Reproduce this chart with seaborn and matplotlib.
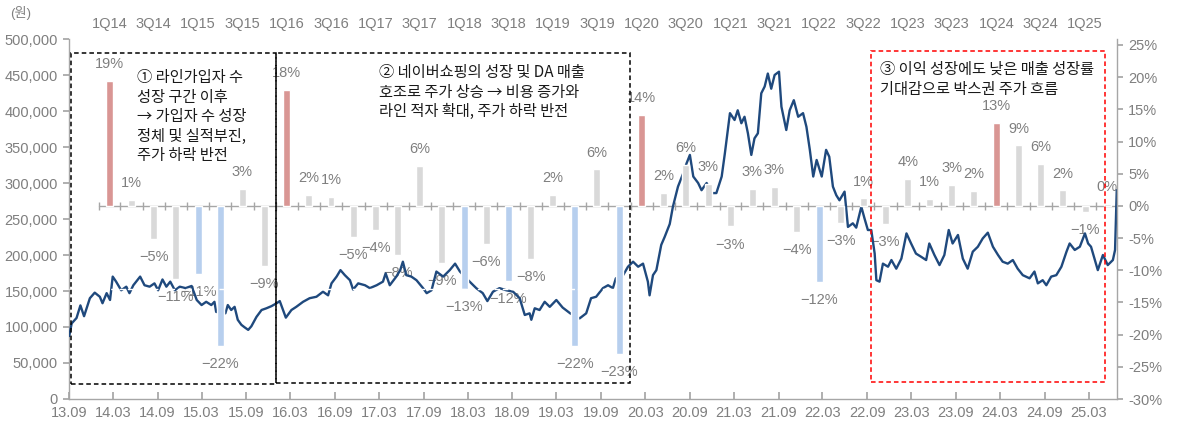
import matplotlib
matplotlib.use("Agg")
import matplotlib.pyplot as plt
import matplotlib.dates as mdates
import matplotlib.ticker as mticker
from matplotlib.patches import Rectangle
import numpy as np
import pandas as pd
import seaborn as sns

# ---------------- data ----------------
price_dates = [
    "2013-09-02", "2013-09-12", "2013-10-02", "2013-10-18", "2013-11-02", "2013-11-26", "2013-12-16",
    "2014-01-06", "2014-01-17", "2014-02-03", "2014-02-17", "2014-02-28", "2014-03-14", "2014-04-04",
    "2014-04-25", "2014-05-08", "2014-05-24", "2014-06-21", "2014-07-09", "2014-07-30", "2014-08-19",
    "2014-09-03", "2014-09-21", "2014-10-07", "2014-10-23", "2014-11-11", "2014-12-01", "2014-12-25",
    "2015-01-19", "2015-02-09", "2015-03-01", "2015-03-20", "2015-04-10", "2015-04-23", "2015-04-30",
    "2015-06-07", "2015-06-17", "2015-07-01", "2015-07-15", "2015-07-28", "2015-08-12", "2015-08-25",
    "2015-09-09", "2015-09-22", "2015-10-13", "2015-11-03", "2015-11-23", "2015-12-14", "2016-01-04",
    "2016-01-17", "2016-02-11", "2016-03-05", "2016-03-25", "2016-04-22", "2016-05-19", "2016-06-16",
    "2016-07-13", "2016-08-03", "2016-08-17", "2016-09-07", "2016-09-23", "2016-10-11", "2016-11-01",
    "2016-11-14", "2016-12-05", "2017-01-02", "2017-01-22", "2017-02-19", "2017-03-17", "2017-03-28",
    "2017-04-14", "2017-05-11", "2017-05-27", "2017-06-07", "2017-06-21", "2017-07-12", "2017-08-02",
    "2017-08-29", "2017-09-13", "2017-10-03", "2017-10-23", "2017-11-20", "2017-12-17", "2018-01-08",
    "2018-01-28", "2018-03-09", "2018-04-05", "2018-05-02", "2018-05-21", "2018-06-13", "2018-07-10",
    "2018-08-07", "2018-09-04", "2018-10-01", "2018-10-22", "2018-11-11", "2018-11-18", "2018-12-02",
    "2018-12-22", "2019-01-12", "2019-02-02", "2019-03-01", "2019-03-27", "2019-04-27", "2019-06-05",
    "2019-07-02", "2019-07-22", "2019-08-12", "2019-09-09", "2019-09-30", "2019-10-20", "2019-11-01",
    "2019-12-01", "2019-12-21", "2020-01-11", "2020-02-01", "2020-02-21", "2020-03-12", "2020-03-19",
    "2020-04-02", "2020-04-16", "2020-05-06", "2020-05-20", "2020-06-10", "2020-06-23", "2020-07-14",
    "2020-08-04", "2020-08-18", "2020-09-01", "2020-09-15", "2020-10-05", "2020-10-19", "2020-11-09",
    "2020-11-29", "2020-12-19", "2021-01-10", "2021-01-23", "2021-02-13", "2021-03-04", "2021-03-17",
    "2021-04-01", "2021-04-14", "2021-04-28", "2021-05-12", "2021-05-25", "2021-06-08", "2021-06-22",
    "2021-07-06", "2021-07-19", "2021-08-02", "2021-08-16", "2021-09-03", "2021-09-13", "2021-10-03",
    "2021-10-17", "2021-11-03", "2021-11-21", "2021-12-11", "2021-12-25", "2022-01-08", "2022-01-22",
    "2022-02-05", "2022-02-26", "2022-03-16", "2022-03-29", "2022-04-13", "2022-04-27", "2022-05-10",
    "2022-05-31", "2022-06-14", "2022-07-04", "2022-07-18", "2022-08-08", "2022-08-21", "2022-09-04",
    "2022-09-18", "2022-10-02", "2022-10-09", "2022-10-22", "2022-11-05", "2022-11-26", "2022-12-10",
    "2022-12-30", "2023-01-20", "2023-02-10", "2023-03-01", "2023-03-21", "2023-04-11", "2023-05-02",
    "2023-05-15", "2023-06-05", "2023-06-26", "2023-07-16", "2023-08-03", "2023-08-19", "2023-09-10",
    "2023-09-30", "2023-10-20", "2023-11-10", "2023-12-01", "2023-12-21", "2024-01-11", "2024-02-01",
    "2024-02-22", "2024-03-12", "2024-04-02", "2024-04-23", "2024-05-13", "2024-06-03", "2024-07-01",
    "2024-07-21", "2024-08-04", "2024-08-24", "2024-09-08", "2024-09-28", "2024-10-19", "2024-11-09",
    "2024-11-30", "2024-12-13", "2025-01-03", "2025-01-24", "2025-02-14", "2025-02-27", "2025-03-11",
    "2025-03-25", "2025-04-08", "2025-04-29", "2025-05-19", "2025-06-09", "2025-06-18", "2025-06-25",
]
price_won = [
    87500, 105000, 112500, 130000, 115000, 140000, 147700,
    142000, 133000, 147000, 137500, 170000, 163000, 151000,
    156000, 147000, 158000, 170000, 158000, 156000, 160600,
    151000, 166000, 156000, 163000, 151000, 156000, 154000,
    157000, 137500, 130500, 135000, 130500, 135000, 121000,
    119000, 130500, 123600, 128000, 110000, 103000, 99600,
    96000, 101000, 114000, 123600, 126000, 129000, 133000,
    136000, 113000, 123600, 128000, 135000, 140000, 142000,
    149000, 144000, 160600, 170000, 179000, 172000, 165000,
    152000, 160600, 158000, 154000, 158000, 163000, 174500,
    158000, 170000, 179000, 190700, 172000, 170000, 165000,
    154000, 147000, 151000, 177000, 170000, 179000, 188000,
    177000, 163000, 154000, 147000, 136000, 149000, 154000,
    151000, 149000, 140000, 116700, 119000, 110000, 126000,
    123600, 135000, 128000, 137500, 127000, 119000, 112000,
    119000, 140000, 142000, 154000, 158000, 154000, 167600,
    172000, 183700, 190700, 183700, 188000, 163000, 144000,
    172000, 179000, 214000, 225000, 243000, 267000, 295000,
    313000, 327000, 339000, 309000, 300000, 290000, 300000,
    286000, 286000, 309000, 341000, 397000, 387500, 401000,
    383000, 392000, 369000, 339000, 362000, 369000, 424600,
    434000, 452000, 431000, 450000, 454600, 406000, 373600,
    401000, 415000, 392000, 397000, 378000, 346000, 309000,
    332000, 309000, 346000, 336500, 295000, 283000, 276000,
    288000, 239000, 244000, 238000, 267000, 251000, 234700,
    234700, 202000, 165000, 163000, 188000, 183700, 193000,
    181000, 195000, 230000, 216000, 202000, 197600, 193000,
    216000, 200000, 186000, 200000, 234700, 216000, 227800,
    195000, 181000, 204600, 211500, 223000, 231000, 211500,
    200000, 190700, 188000, 193000, 181000, 172000, 167600,
    177000, 160600, 165000, 158000, 170000, 172000, 183700,
    204600, 216000, 207000, 211500, 230000, 216000, 211500,
    195000, 179000, 200000, 186000, 193000, 207000, 290000,
]

quarters = [
    "1Q14", "2Q14", "3Q14", "4Q14", "1Q15", "2Q15", "3Q15", "4Q15",
    "1Q16", "2Q16", "3Q16", "4Q16", "1Q17", "2Q17", "3Q17", "4Q17",
    "1Q18", "2Q18", "3Q18", "4Q18", "1Q19", "2Q19", "3Q19", "4Q19",
    "1Q20", "2Q20", "3Q20", "4Q20", "1Q21", "2Q21", "3Q21", "4Q21",
    "1Q22", "2Q22", "3Q22", "4Q22", "1Q23", "2Q23", "3Q23", "4Q23",
    "1Q24", "2Q24", "3Q24", "4Q24", "1Q25", "2Q25",
]
change_pct = [
    19.4, 0.9, -5.1, -11.3, -10.6, -21.7, 2.6, -9.3,
    18.0, 1.7, 1.4, -4.8, -3.7, -7.6, 6.2, -8.9,
    -12.9, -5.9, -11.6, -8.3, 1.7, -21.7, 5.7, -23.0,
    14.2, 2.0, 6.4, 3.4, -3.2, 2.6, 3.0, -4.1,
    -11.8, -2.6, 1.2, -2.8, 4.2, 1.1, 3.3, 2.3,
    12.9, 9.4, 6.5, 2.4, -0.9, 0.3,
]
bar_kind = [
    "up", "other", "other", "other", "down", "down", "other", "other",
    "up", "other", "other", "other", "other", "other", "other", "other",
    "down", "other", "down", "other", "other", "down", "other", "down",
    "up", "other", "other", "other", "other", "other", "other", "other",
    "down", "other", "other", "other", "other", "other", "other", "other",
    "up", "other", "other", "other", "other", "other",
]
top_quarter_labels = quarters[0:45:2]
hidden_ref_level = 153000  # white dashed reference line (2013-2019)

box_texts = [
    "① 라인가입자 수\n성장 구간 이후\n→ 가입자 수 성장\n정체 및 실적부진,\n주가 하락 반전",
    "② 네이버쇼핑의 성장 및 DA 매출\n호조로 주가 상승 → 비용 증가와\n라인 적자 확대, 주가 하락 반전",
    "③ 이익 성장에도 낮은 매출 성장률\n기대감으로 박스권 주가 흐름",
]

# ---------------- styling ----------------
sns.set_theme(style="white")
plt.rcParams["font.family"] = ["Liberation Sans", "Noto Sans CJK KR", "DejaVu Sans"]
plt.rcParams["axes.unicode_minus"] = True

LINE_C = "#1F497D"
PALETTE = {"up": "#D99694", "down": "#B7CFEE", "other": "#D9D9D9"}
TICK_C = "#7F7F7F"
SPINE_C = "#A6A6A6"

W, H = 1180, 421
def fx(x):
    return x / W
def fy(y):
    return 1 - y / H

fig = plt.figure(figsize=(W / 100, H / 100), dpi=100)
ax = fig.add_axes([fx(69), fy(399), (1117 - 69) / W, (399 - 39) / H])
ax2 = ax.twinx()

# dates
pdates = pd.to_datetime(price_dates)
price_num = mdates.date2num(pdates)

def q_start(q):
    n = int(q[0]); yy = 2000 + int(q[2:])
    return pd.Timestamp(yy, 3 * (n - 1) + 1, 1)

q_starts = [q_start(q) for q in quarters]
q_centers = [s + pd.Timedelta(days=45) for s in q_starts]
q_center_num = mdates.date2num(q_centers)
q_bounds = q_starts + [q_starts[-1] + pd.DateOffset(months=3)]
q_bound_num = mdates.date2num(q_bounds)

x_left = mdates.date2num(pd.Timestamp("2013-09-01"))
x_right = mdates.date2num(pd.Timestamp("2025-06-26"))

# stock price line
sns.lineplot(x=price_num, y=price_won, ax=ax, color=LINE_C, linewidth=1.7, zorder=3)

# bars
bar_df = pd.DataFrame({"x": q_center_num, "v": change_pct, "kind": bar_kind})
sns.barplot(data=bar_df, x="x", y="v", hue="kind", palette=PALETTE, native_scale=True,
            dodge=False, width=0.32, errorbar=None, legend=False, saturation=1,
            ax=ax2, zorder=2)

# zero line with quarter ticks (drawn on primary axes under the price line)
ax.plot([q_bound_num[0], q_bound_num[-1]], [0, 0], transform=ax2.transData,
        color=SPINE_C, lw=1.0, zorder=1.5, clip_on=True)
ax.plot(q_bound_num, np.zeros(len(q_bound_num)), transform=ax2.transData, linestyle="none",
        marker="|", markersize=6, markeredgewidth=1.0, color=SPINE_C, zorder=1.5, clip_on=True)

# bar value labels
for xc, v in zip(q_center_num, change_pct):
    r = int(round(v))
    txt = (f"\u2212{abs(r)}%" if r < 0 else f"{r}%")
    off = 12 if v >= 0 else -13
    ax.annotate(txt, xy=(xc, v), xycoords=ax2.transData, xytext=(0, off),
                textcoords="offset points", ha="center", va="center",
                fontsize=10.5, color=TICK_C, zorder=2)

# white dashed reference line (over bars)
ax2.plot([x_left, mdates.date2num(pd.Timestamp("2019-10-31"))],
         [hidden_ref_level, hidden_ref_level], transform=ax.transData,
         color="white", lw=1.0, ls=(0, (4, 2)), zorder=5)

# axes limits / scales
ax.set_xlim(x_left, x_right)
ax.set_ylim(0, 500000)
ax2.set_ylim(-30, 25.93)
ax.set_xlabel(""); ax.set_ylabel(""); ax2.set_xlabel(""); ax2.set_ylabel("")

ax.yaxis.set_major_locator(mticker.MultipleLocator(50000))
ax.yaxis.set_major_formatter(mticker.FuncFormatter(lambda v, p: f"{v:,.0f}"))
ax2.yaxis.set_major_locator(mticker.FixedLocator(np.arange(-30, 26, 5)))
ax2.yaxis.set_major_formatter(mticker.FuncFormatter(lambda v, p: f"{v:.0f}%"))

ax.xaxis.set_major_locator(mdates.MonthLocator(bymonth=[3, 9], bymonthday=1))
ax.xaxis.set_major_formatter(mdates.DateFormatter("%y.%m"))

ax.tick_params(axis="x", direction="in", length=5, color=SPINE_C, labelcolor=TICK_C,
               labelsize=10.5, pad=5, bottom=True)
ax.tick_params(axis="y", direction="out", length=4, color=SPINE_C, labelcolor=TICK_C,
               labelsize=10.5, pad=4, left=True)
ax2.tick_params(axis="y", direction="out", length=4, color=SPINE_C, labelcolor=TICK_C,
                labelsize=10.5, pad=4, right=True)

for a in (ax, ax2):
    a.spines["top"].set_visible(False)
    for s in a.spines.values():
        s.set_color(SPINE_C)
        s.set_linewidth(1.0)
ax.spines["right"].set_visible(False)
ax2.spines["left"].set_visible(False)
ax2.spines["bottom"].set_visible(False)
ax.grid(False); ax2.grid(False)

# top quarter labels
secax = ax.secondary_xaxis("top")
secax.set_xticks(q_center_num[0:45:2], labels=top_quarter_labels)
secax.tick_params(length=0, pad=6, labelsize=10.5, labelcolor=TICK_C)
secax.spines["top"].set_visible(False)

# unit label
fig.text(fx(21), fy(13), "(원)", ha="center", va="center", fontsize=9.5, color=TICK_C)

# annotation boxes
boxes = [
    (70.5, 52.5, 276, 383.5, "black"),
    (276, 52.5, 629.5, 383, "black"),
    (871, 51, 1105, 382, "#FF0000"),
]
for (x0, y0, x1, y1, c) in boxes:
    fig.add_artist(Rectangle((fx(x0), fy(y1)), fx(x1) - fx(x0), fy(y0) - fy(y1),
                             transform=fig.transFigure, fill=False, ec=c, lw=1.1,
                             ls=(0, (3, 2)), zorder=10))

text_pos = [(137, 69), (379, 64), (880, 61)]
for (tx, ty), t in zip(text_pos, box_texts):
    fig.text(fx(tx), fy(ty), t, ha="left", va="top", fontsize=11, color="#1A1A1A",
             linespacing=1.2, zorder=11,
             family=["Noto Sans CJK KR", "DejaVu Sans"])

fig.savefig("out.png", dpi=100)
